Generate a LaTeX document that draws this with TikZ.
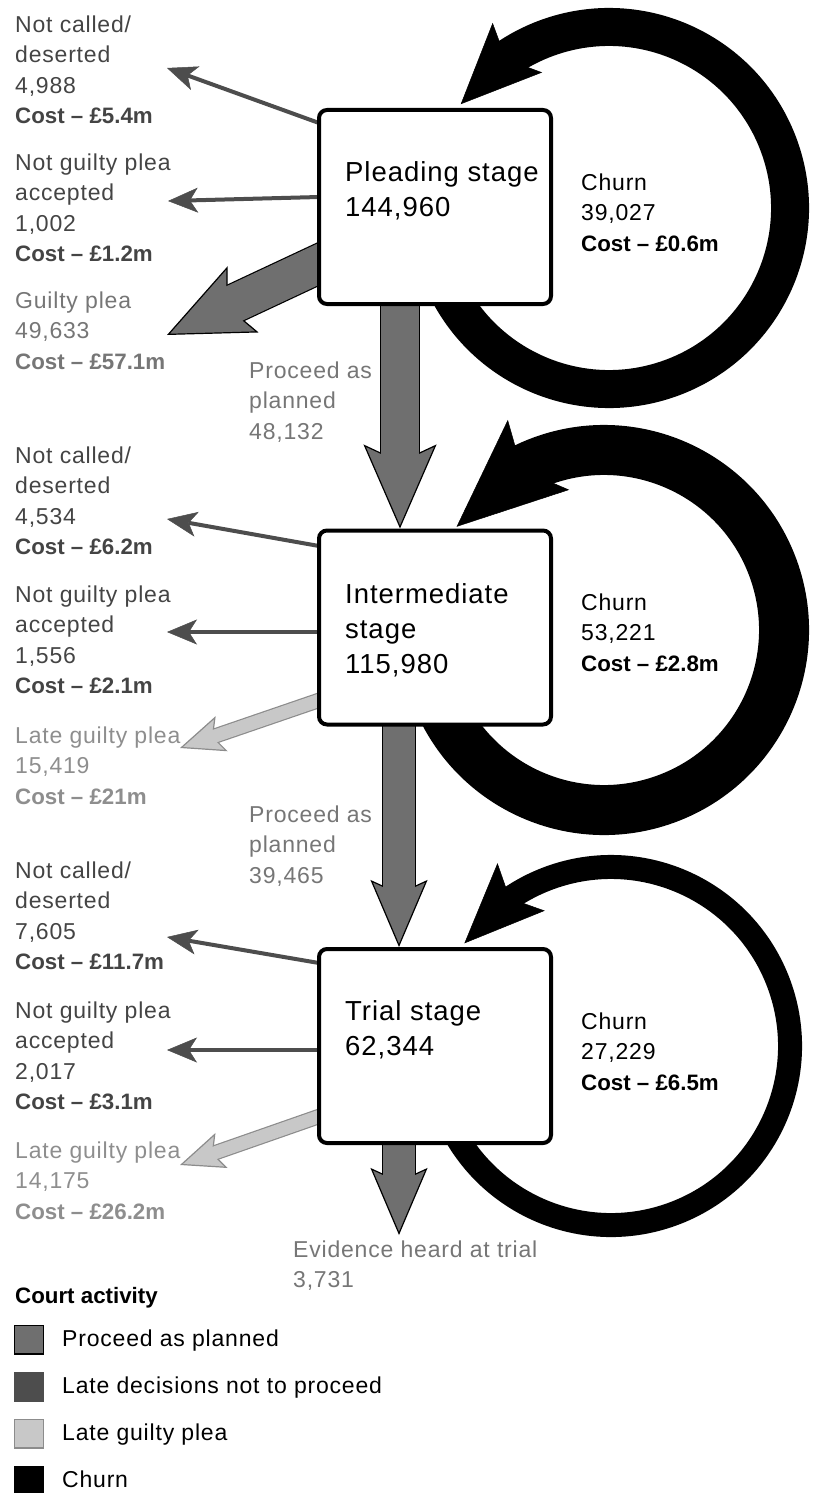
\documentclass[tikz,border=0pt]{standalone}
\usepackage{fontspec}
\setmainfont{Liberation Sans}[LetterSpace=3.5,BoldFeatures={LetterSpace=0,Scale=0.97}]
\usetikzlibrary{arrows.meta,bending,calc,backgrounds}
\definecolor{planfill}{HTML}{6F6F6F}
\definecolor{declinefill}{HTML}{4D4D4D}
\definecolor{pleafill}{HTML}{C8C8C8}
\definecolor{pleaedge}{HTML}{8C8C8C}
\definecolor{declinetext}{HTML}{444444}
\definecolor{plantext}{HTML}{767676}
\definecolor{pleatext}{HTML}{8E8E8E}
\tikzset{
  stage/.style={draw, rounded corners=8pt, line width=4pt, fill=white, minimum width=232pt, minimum height=194pt},
  stagetext/.style={anchor=north west, inner sep=0pt, align=left, font=\fontsize{27.5}{35}\selectfont},
  note/.style={anchor=north west, inner sep=0pt, align=left, font=\fontsize{23}{30.5}\selectfont},
  decline/.style={draw=declinefill, line width=4pt, -{Stealth[length=30pt, width=25pt, inset=8pt, line width=0.5pt]}},
  fatbig/.style={draw=planfill, line width=38pt, shorten >=64pt,
    preaction={draw=black, line width=40.4pt, shorten >=0pt, -{Stealth[length=84pt, width=73pt, inset=17pt, fill=planfill, line width=1.2pt]}}},
  fatsmall/.style={draw=planfill, line width=32pt, shorten >=51pt,
    preaction={draw=black, line width=34.4pt, shorten >=0pt, -{Stealth[length=67pt, width=57pt, inset=13pt, fill=planfill, line width=1.2pt]}}},
  fatplea/.style={draw=pleafill, line width=13pt, shorten >=32pt,
    preaction={draw=pleaedge, line width=15.4pt, shorten >=0pt, -{Stealth[length=44pt, width=37pt, inset=9pt, fill=pleafill, line width=1.2pt]}}},
  churn/.style={draw=black},
  keybox/.style={minimum size=28.8pt, inner sep=0pt, line width=1.2pt},
  keytext/.style={anchor=base west, inner sep=0pt, font=\fontsize{23}{30.5}\selectfont},
}
\begin{document}
\begin{tikzpicture}[x=1pt, y=-1pt]
\useasboundingbox (0,0) rectangle (814,1493);

% the three stages
\node[stage] (plead) at (435,207) {};
\node[stage] (inter) at (435,627.5) {};
\node[stage] (trial) at (435,1046) {};
\node[stagetext] (pleadtxt) at ($(plead.north west)+(28,53.5)$) {Pleading stage\\144,960};
\node[stagetext] (intertxt) at ($(inter.north west)+(28,54.5)$) {Intermediate\\stage\\115,980};
\node[stagetext] (trialtxt) at ($(trial.north west)+(28,53)$) {Trial stage\\62,344};

% free ends of the arrows
\coordinate (pnctip) at (167,68);
\coordinate (pngtip) at (168,201);
\coordinate (pgtip) at (167,335);
\coordinate (inctip) at (167,519);
\coordinate (ingtip) at (167,632);
\coordinate (ilgtip) at (180,748);
\coordinate (tnctip) at (167,937);
\coordinate (tngtip) at (167,1050);
\coordinate (tlgtip) at (180,1165);
\coordinate (evidtip) at (399,1235);
\coordinate (c1) at (609,208); % churn centres
\coordinate (c2) at (604,630);
\coordinate (c3) at (611,1046);

% pleading stage labels
\node[note, text=declinetext] (pnc) at (15,15.5) {Not called/\\deserted\\4,988\\\textbf{Cost – £5.4m}};
\node[note, text=declinetext] (png) at (15,153.5) {Not guilty plea\\accepted\\1,002\\\textbf{Cost – £1.2m}};
\node[note, text=plantext] (pg) at (15,291.5) {Guilty plea\\49,633\\\textbf{Cost – £57.1m}};
\node[note, text=plantext] (pplan) at (249,361.5) {Proceed as\\planned\\48,132};
\node[note] (pchurn) at (581,173.5) {Churn\\39,027\\\textbf{Cost – £0.6m}};

% intermediate stage labels
\node[note, text=declinetext] (inc) at (15,446.5) {Not called/\\deserted\\4,534\\\textbf{Cost – £6.2m}};
\node[note, text=declinetext] (ing) at (15,585.5) {Not guilty plea\\accepted\\1,556\\\textbf{Cost – £2.1m}};
\node[note, text=pleatext] (ilg) at (15,726.5) {Late guilty plea\\15,419\\\textbf{Cost – £21m}};
\node[note, text=plantext] (iplan) at (249,805.5) {Proceed as\\planned\\39,465};
\node[note] (ichurn) at (581,593.5) {Churn\\53,221\\\textbf{Cost – £2.8m}};

% trial stage labels
\node[note, text=declinetext] (tnc) at (15,861.5) {Not called/\\deserted\\7,605\\\textbf{Cost – £11.7m}};
\node[note, text=declinetext] (tng) at (15,1001.5) {Not guilty plea\\accepted\\2,017\\\textbf{Cost – £3.1m}};
\node[note, text=pleatext] (tlg) at (15,1141.5) {Late guilty plea\\14,175\\\textbf{Cost – £26.2m}};
\node[note, text=plantext] (evid) at (293,1240.5) {Evidence heard at trial\\3,731};
\node[note] (tchurn) at (581,1012.5) {Churn\\27,229\\\textbf{Cost – £6.5m}};

\begin{scope}[on background layer]
% churn loops
\draw[churn, line width=38pt, -{Stealth[flex, length=80pt, width=70pt, inset=16pt, line width=0.5pt]}]
  ($(c1)+(-200:181)$) arc[start angle=-200, end angle=-505, radius=181];
\draw[churn, line width=50pt, -{Stealth[flex, length=109pt, width=93pt, inset=22pt, line width=0.5pt]}]
  ($(c2)+(-200:180)$) arc[start angle=-200, end angle=-505, radius=180];
\draw[churn, line width=24pt, -{Stealth[flex, length=80pt, width=67pt, inset=16pt, line width=0.5pt]}]
  ($(c3)+(-200:179)$) arc[start angle=-200, end angle=-505, radius=179];
% proceed as planned
\draw[fatbig] ($(plead.south)+(-35,-6)$) -- ($(inter.north)+(-35,0)$);
\draw[fatsmall] ($(inter.south)+(-36,-6)$) -- ($(trial.north)+(-36,0)$);
\draw[fatsmall] ($(trial.south)+(-36,-6)$) -- (evidtip);
\draw[fatbig] ($(plead.west)+(23,47)$) -- (pgtip);
% late guilty pleas
\draw[fatplea] ($(inter.west)+(19,67)$) -- (ilgtip);
\draw[fatplea] ($(trial.west)+(19,64.5)$) -- (tlgtip);
% late decisions not to proceed
\draw[decline] ($(plead.west)+(2,-84)$) -- (pnctip);
\draw[decline] ($(plead.west)+(2,-10)$) -- (pngtip);
\draw[decline] ($(inter.west)+(2,-81.5)$) -- (inctip);
\draw[decline] ($(inter.west)+(2,4.5)$) -- (ingtip);
\draw[decline] ($(trial.west)+(2,-83)$) -- (tnctip);
\draw[decline] ($(trial.west)+(2,4)$) -- (tngtip);
\end{scope}

% legend
\node[keytext, font=\fontsize{23}{30.5}\selectfont\bfseries] (keyhead) at (15,1303) {Court activity};
\foreach \fil/\edg/\txt [count=\i] in {planfill/black/Proceed as planned, declinefill/declinefill/Late decisions not to proceed, pleafill/pleaedge/Late guilty plea, black/black/Churn}
{
  \node[keybox, fill=\fil, draw=\edg] (key\i) at (29,1292.5+47*\i) {};
  \node[keytext] (keytxt\i) at (62,1299+47*\i) {\txt};
}
\end{tikzpicture}
\end{document}
